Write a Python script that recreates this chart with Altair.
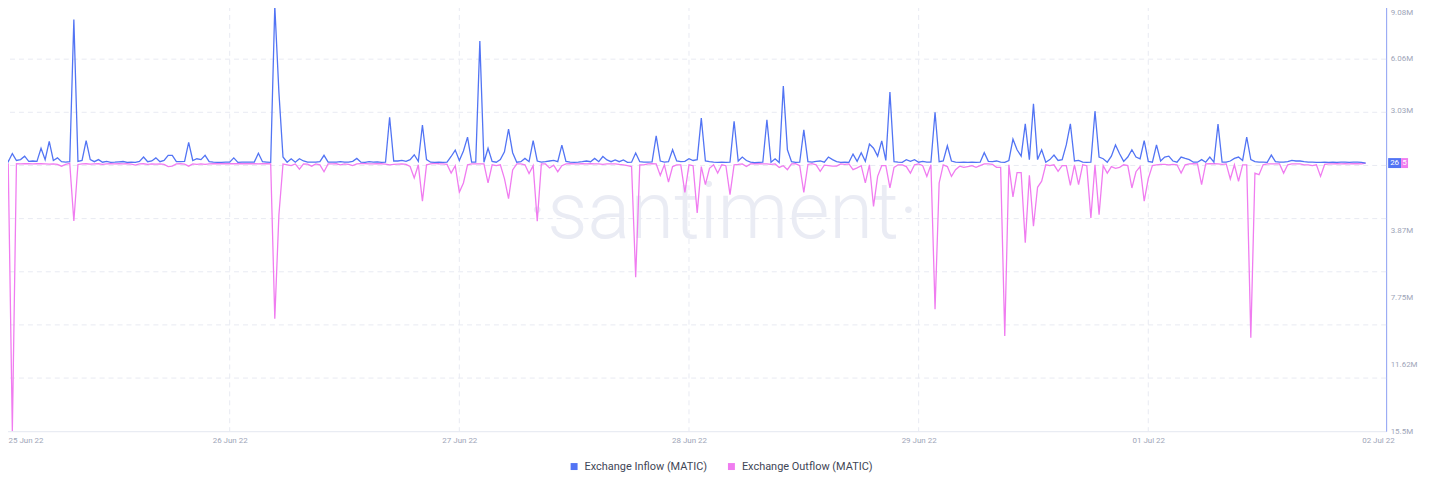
import altair as alt
import pandas as pd

SERIES = ["Exchange Inflow (MATIC)", "Exchange Outflow (MATIC)"]
COLORS = ["#5274F4", "#F07CF0"]
START = "2022-06-25 05:00:00"
STEP_MIN = 30
X_TICK_HOURS = [0, 28, 56, 84, 112, 140, 168]
X_SPAN_HOURS = 169
Y_MAX_M = 9.08
Y_MIN_M = -15.5
Y_TICKS_M = [9.08, 6.06, 3.03, -3.87, -7.75, -11.62, -15.5]
WATERMARK = "\u00b7santiment\u00b7"

# Exchange inflow, millions of MATIC, 30-minute steps
inflow_m = [
    0.05, 0.45, 0.08, 0.55, 0.15, 0.2, 0.4, 0.1, 0.12, 0.1,
    0.85, 0.2, 1.25, 0.15, 0.3, 0.08, 0.06, 0.08, 8.3, 0.1,
    0.15, 1.3, 0.2, 0.08, 0.2, 0.05, 0.1, 0.04, 0.05, 0.07,
    0.09, 0.04, 0.05, 0.04, 0.1, 0.35, 0.08, 0.12, 0.3, 0.08,
    0.15, 0.45, 0.45, 0.08, 0.08, 0.1, 1.2, 0.15, 0.25, 0.2,
    0.45, 0.08, 0.05, 0.04, 0.04, 0.05, 0.05, 0.3, 0.04, 0.05,
    0.05, 0.05, 0.06, 0.57, 0.08, 0.06, 0.04, 9.08, 4.1, 0.35,
    0.05, 0.25, 0.05, 0.25, 0.12, 0.06, 0.05, 0.05, 0.08, 0.45,
    0.06, 0.05, 0.05, 0.08, 0.05, 0.05, 0.1, 0.27, 0.05, 0.04,
    0.08, 0.05, 0.07, 0.04, 0.05, 2.65, 0.12, 0.12, 0.15, 0.1,
    0.2, 0.48, 0.1, 2.2, 0.2, 0.05, 0.04, 0.05, 0.04, 0.05,
    0.38, 0.75, 0.15, 0.7, 1.5, 0.05, 0.05, 7.05, 0.05, 0.86,
    0.1, 0.05, 0.2, 0.65, 1.96, 0.6, 0.05, 0.08, 0.27, 0.08,
    1.3, 0.12, 0.05, 0.08, 0.12, 0.15, 0.08, 1.04, 0.1, 0.05,
    0.04, 0.05, 0.08, 0.12, 0.08, 0.27, 0.08, 0.38, 0.18, 0.08,
    0.18, 0.08, 0.18, 0.04, 0.05, 0.58, 0.08, 0.06, 0.06, 0.07,
    1.57, 0.12, 0.05, 0.08, 0.77, 0.12, 0.08, 0.1, 0.25, 0.15,
    0.2, 2.6, 0.12, 0.08, 0.05, 0.04, 0.05, 0.04, 0.06, 2.42,
    0.12, 0.35, 0.15, 0.05, 0.03, 0.04, 0.05, 2.5, 0.05, 0.25,
    0.03, 4.45, 0.77, 0.08, 0.04, 0.05, 1.92, 0.08, 0.05, 0.1,
    0.12, 0.05, 0.35, 0.2, 0.08, 0.04, 0.05, 0.04, 0.52, 0.1,
    0.6, 0.1, 1.1, 0.86, 0.4, 1.28, 0.15, 4.1, 0.08, 0.05,
    0.04, 0.2, 0.1, 0.2, 0.05, 0.1, 0.05, 0.05, 2.94, 0.08,
    0.12, 1.0, 0.12, 0.05, 0.04, 0.05, 0.04, 0.05, 0.04, 0.05,
    0.6, 0.1, 0.08, 0.12, 0.05, 0.04, 0.15, 1.38, 0.77, 0.4,
    2.27, 0.2, 3.42, 0.2, 0.77, 0.05, 0.2, 0.46, 0.15, 0.2,
    1.05, 2.27, 0.12, 0.15, 0.05, 0.04, 0.05, 3.0, 0.35, 0.25,
    0.05, 0.4, 1.05, 0.54, 0.1, 0.35, 0.77, 0.35, 0.25, 1.3,
    0.1, 0.05, 1.05, 0.12, 0.35, 0.4, 0.12, 0.05, 0.35, 0.27,
    0.2, 0.05, 0.05, 0.2, 0.05, 0.35, 0.05, 2.25, 0.05, 0.05,
    0.12, 0.27, 0.35, 0.15, 1.5, 0.2, 0.08, 0.05, 0.05, 0.04,
    0.46, 0.08, 0.05, 0.05, 0.08, 0.15, 0.12, 0.12, 0.08, 0.05,
    0.05, 0.04, 0.04, 0.05, 0.04, 0.05, 0.04, 0.05, 0.06, 0.04,
    0.05, 0.06, 0.04, 0.000026,
]

# Exchange outflow, millions of MATIC, 30-minute steps
outflow_m = [
    0.03, 0.02, 0.05, 15.5, 0.03, 0.05, 0.03, 0.04, 0.05, 0.03,
    0.04, 0.05, 0.06, 0.05, 0.08, 0.18, 0.08, 0.02, 3.35, 0.08,
    0.05, 0.04, 0.06, 0.05, 0.04, 0.08, 0.05, 0.04, 0.05, 0.03,
    0.05, 0.04, 0.06, 0.12, 0.05, 0.04, 0.08, 0.05, 0.06, 0.05,
    0.08, 0.2, 0.18, 0.05, 0.04, 0.06, 0.18, 0.05, 0.08, 0.05,
    0.08, 0.05, 0.04, 0.03, 0.04, 0.03, 0.04, 0.03, 0.04, 0.03,
    0.04, 0.03, 0.04, 0.05, 0.04, 0.03, 0.04, 9.0, 3.0, 0.05,
    0.1, 0.15, 0.05, 0.35, 0.05, 0.06, 0.18, 0.05, 0.1, 0.5,
    0.05, 0.05, 0.04, 0.1, 0.05, 0.08, 0.15, 0.05, 0.03, 0.03,
    0.05, 0.05, 0.04, 0.04, 0.06, 0.1, 0.08, 0.06, 0.05, 0.08,
    0.2, 0.86, 0.1, 2.2, 0.1, 0.05, 0.02, 0.04, 0.05, 0.08,
    0.58, 0.15, 1.69, 1.15, 0.1, 0.05, 0.05, 0.05, 0.05, 1.15,
    0.1, 0.15, 0.1, 0.9, 2.05, 0.4, 0.05, 0.05, 0.1, 0.6,
    0.15, 3.36, 0.05, 0.05, 0.28, 0.12, 0.5, 0.15, 0.05, 0.04,
    0.05, 0.05, 0.04, 0.05, 0.04, 0.05, 0.05, 0.08, 0.05, 0.05,
    0.05, 0.08, 0.1, 0.15, 0.2, 6.6, 0.1, 0.1, 0.05, 0.04,
    0.05, 0.71, 0.1, 1.1, 0.2, 0.1, 0.1, 1.69, 0.1, 0.15,
    2.88, 0.2, 1.25, 0.3, 0.1, 0.58, 0.1, 0.15, 1.82, 0.1,
    0.08, 0.05, 0.2, 0.05, 0.04, 0.04, 0.05, 0.05, 0.08, 0.05,
    0.25, 0.15, 0.38, 0.05, 0.04, 0.15, 1.69, 0.08, 0.03, 0.1,
    0.48, 0.12, 0.15, 0.18, 0.18, 0.05, 0.08, 0.05, 0.38, 0.28,
    0.15, 1.15, 0.1, 2.5, 0.77, 0.15, 0.15, 1.44, 0.25, 0.1,
    0.1, 0.2, 0.58, 0.1, 0.05, 0.15, 0.77, 0.1, 8.45, 1.15,
    0.1, 0.2, 0.77, 0.38, 0.18, 0.25, 0.2, 0.15, 0.25, 0.15,
    0.05, 0.05, 0.08, 0.25, 0.25, 10.0, 0.1, 1.96, 0.55, 0.55,
    4.6, 0.7, 3.65, 1.4, 1.05, 0.1, 0.15, 0.1, 0.48, 0.15,
    0.15, 1.29, 0.1, 1.25, 0.1, 0.15, 3.17, 0.1, 2.98, 0.15,
    0.58, 0.2, 0.3, 0.25, 0.1, 0.15, 1.44, 0.5, 0.2, 2.2,
    0.9, 0.15, 0.1, 0.08, 0.08, 0.1, 0.08, 0.1, 0.58, 0.1,
    0.05, 0.04, 0.05, 1.25, 0.05, 0.04, 0.04, 0.05, 0.08, 0.05,
    0.92, 0.1, 1.05, 0.1, 0.1, 10.1, 0.58, 0.67, 0.1, 0.05,
    0.05, 0.05, 0.05, 0.58, 0.1, 0.05, 0.05, 0.05, 0.1, 0.1,
    0.15, 0.1, 0.77, 0.08, 0.05, 0.05, 0.04, 0.05, 0.04, 0.05,
    0.04, 0.04, 0.05, 0.000005,
]

n = min(len(inflow_m), len(outflow_m))
t0 = pd.Timestamp(START, tz="UTC")
ms0 = int(t0.value // 10**6)
HOUR = 3600000
times = [ms0 + i * STEP_MIN * 60000 for i in range(n)]

df = pd.DataFrame({
    "time": times * 2,
    "value": [v * 1e6 for v in inflow_m[:n]] + [-v * 1e6 for v in outflow_m[:n]],
    "series": [SERIES[0]] * n + [SERIES[1]] * n,
})

W, H = 1392, 427
GRID = "#E8EAF2"
LABEL = "#9EA5B8"
FONT = "Roboto"
TOP_TEST = "datum.value >= %d" % int(Y_MAX_M * 1e6 - 1000)

x_scale = alt.Scale(type="utc", domain=[ms0, ms0 + X_SPAN_HOURS * HOUR])
y_scale = alt.Scale(domain=[Y_MIN_M * 1e6, Y_MAX_M * 1e6], nice=False, zero=False)
color_scale = alt.Scale(domain=SERIES, range=COLORS)

x_axis = alt.Axis(
    values=[ms0 + h * HOUR for h in X_TICK_HOURS],
    labelExpr="utcFormat(datum.value, '%d %b %y')",
    title=None, grid=False, ticks=False, domainColor="#E4E7F0",
    labelColor=LABEL, labelFontSize=8, labelFont=FONT, labelPadding=5,
    labelFlush=True, labelFlushOffset=-8, labelOverlap=False,
)
y_axis = alt.Axis(
    orient="right",
    values=[v * 1e6 for v in Y_TICKS_M],
    labelExpr="format(abs(datum.value)/1e6, '.2~f') + 'M'",
    title=None, grid=False, ticks=False, domainColor="#8B9DF2",
    labelColor=LABEL, labelFontSize=8, labelFont=FONT, labelPadding=4,
    labelFlush=False, labelOverlap=False,
    labelBaseline={"condition": {"test": TOP_TEST, "value": "top"}, "value": "middle"},
    labelOffset={"condition": {"test": TOP_TEST, "value": 3}, "value": 0},
)
legend = alt.Legend(
    orient="none", legendX=571, legendY=457, direction="horizontal",
    title=None, symbolType="square", symbolSize=9, symbolStrokeWidth=4,
    labelFontSize=11, labelFont=FONT, labelColor="#3F4656",
    columnPadding=14, labelOffset=5, padding=0,
)

enc = dict(
    x=alt.X("time:T", scale=x_scale, axis=x_axis),
    y=alt.Y("value:Q", scale=y_scale, axis=y_axis),
    color=alt.Color("series:N", scale=color_scale, legend=legend),
)

out_line = alt.Chart(df).transform_filter(
    alt.datum.series == SERIES[1]
).mark_line(strokeWidth=1.3, clip=True).encode(**enc)
in_line = alt.Chart(df).transform_filter(
    alt.datum.series == SERIES[0]
).mark_line(strokeWidth=1.3, clip=True).encode(**enc)

hgrid_df = pd.DataFrame({"gy": [(Y_MIN_M + k * (Y_MAX_M - Y_MIN_M) / 8) * 1e6 for k in range(1, 9)]})
hgrid = alt.Chart(hgrid_df).mark_rule(color=GRID, strokeDash=[5, 4], strokeWidth=1).encode(
    y=alt.Y("gy:Q", scale=y_scale, axis=y_axis)
)
vgrid_df = pd.DataFrame({"gx": [ms0 + h * HOUR for h in X_TICK_HOURS[1:-1]]})
vgrid = alt.Chart(vgrid_df).mark_rule(color=GRID, strokeDash=[5, 4], strokeWidth=1).encode(
    x=alt.X("gx:T", scale=x_scale, axis=x_axis)
)

watermark = alt.Chart(pd.DataFrame({"w": [WATERMARK]})).mark_text(
    font=FONT, fontWeight=300, fontSize=80, color="#EAECF4", align="center", baseline="alphabetic"
).encode(text="w:N", x=alt.value(726), y=alt.value(233))

badge_in = pd.DataFrame({"t": [str(int(round(inflow_m[n - 1] * 1e6)))]})
badge_out = pd.DataFrame({"t": [str(int(round(outflow_m[n - 1] * 1e6)))]})
rect_in = alt.Chart(badge_in).mark_rect(color=COLORS[0], yOffset=-5, y2Offset=5).encode(
    x=alt.value(W + 2), x2=alt.value(W + 15), y=alt.datum(0, scale=y_scale), y2=alt.datum(0)
)
rect_out = alt.Chart(badge_out).mark_rect(color=COLORS[1], yOffset=-5, y2Offset=5).encode(
    x=alt.value(W + 15), x2=alt.value(W + 22), y=alt.datum(0, scale=y_scale), y2=alt.datum(0)
)
text_in = alt.Chart(badge_in).mark_text(color="white", fontSize=8, font=FONT, align="center", baseline="middle").encode(
    text="t:N", x=alt.value(W + 8.5), y=alt.datum(0, scale=y_scale)
)
text_out = alt.Chart(badge_out).mark_text(color="white", fontSize=8, font=FONT, align="center", baseline="middle").encode(
    text="t:N", x=alt.value(W + 18.5), y=alt.datum(0, scale=y_scale)
)

chart = alt.layer(
    watermark, hgrid, vgrid, out_line, in_line, rect_in, rect_out, text_in, text_out
).properties(
    width=W, height=H,
    padding={"left": -8, "top": -3, "right": 35, "bottom": 45},
    autosize=alt.AutoSizeParams(type="none"),
    background="white",
).configure_view(stroke=None)

chart.save("out.html", embed_options={"renderer": "svg", "actions": False})
